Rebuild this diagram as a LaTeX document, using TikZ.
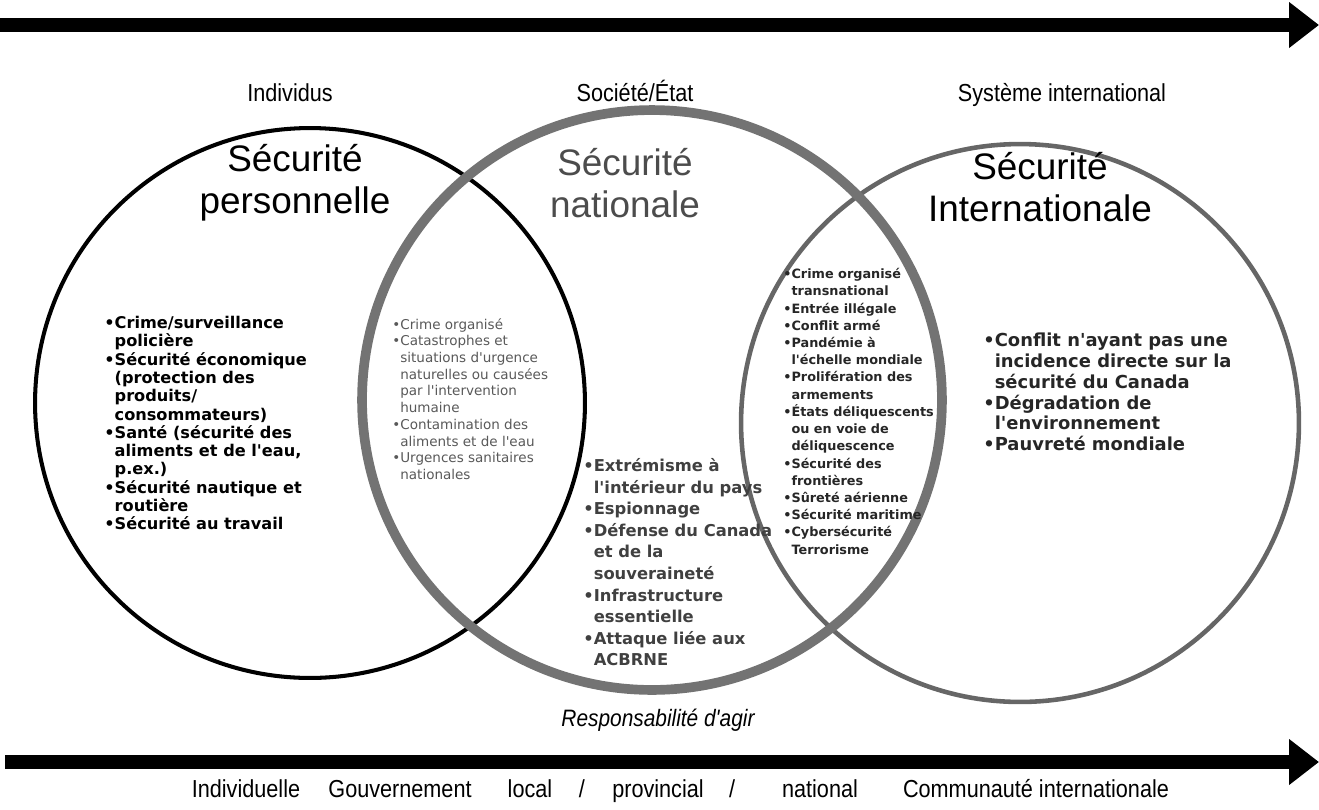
\documentclass[tikz,border=0pt]{standalone}
\usepackage{fontspec}
\setmainfont{Liberation Sans}
\newfontfamily\narrowfont[FakeStretch=0.88]{Liberation Sans}
\newfontfamily\listfont{DejaVu Sans}
\usetikzlibrary{arrows.meta}

\newcommand\itm{\textbullet}
\newcommand\cont{\hphantom{\textbullet}}

\tikzset{
  axis/.style={line width=8pt, -{Triangle[length=17pt,width=25pt]}},
  level/.style={anchor=base, inner sep=0pt, font=\narrowfont\fontsize{14}{16}\selectfont},
  title/.style={align=center, font=\fontsize{21}{24}\selectfont},
  list/.style={anchor=north west, inner sep=0pt, align=left},
}

\begin{document}
\begin{tikzpicture}[x=0.02cm, y=-0.02cm]
	\useasboundingbox (0, 0) rectangle (1319, 809);

	% les deux axes
	\coordinate (topL) at (0, 25);
	\coordinate (topR) at (1319, 25);
	\coordinate (botL) at (5, 762);
	\coordinate (botR) at (1319, 762);
	\draw[axis] (topL) -- (topR);
	\draw[axis] (botL) -- (botR);

	\node[level] (indiv) at (290, 101) {Individus};
	\node[level] (etat) at (635, 101) {Société/État};
	\node[level] (intl) at (1062, 101) {Système international};

	% les trois cercles
	\draw[black, line width=2.3pt] (310, 403) circle [radius=5.5cm];
	\draw[black!60, line width=2.6pt] (1020, 423) circle [radius=5.58cm];
	\draw[black!55, line width=5.5pt] (652, 400) circle [radius=5.8cm];

	\node[title] (perso) at (295, 183) {Sécurité\\personnelle};
	\node[title, black!70] (natio) at (625, 183) {Sécurité\\nationale};
	\node[title] (inter) at (1040, 187) {Sécurité\\Internationale};

	\node[list, font=\listfont\bfseries\fontsize{9.2}{10.4}\selectfont] (listPerso) at (104, 316) {%
		\itm Crime/surveillance\\
		\cont policière\\
		\itm Sécurité économique\\
		\cont (protection des\\
		\cont produits/\\
		\cont consommateurs)\\
		\itm Santé (sécurité des\\
		\cont aliments et de l'eau,\\
		\cont p.ex.)\\
		\itm Sécurité nautique et\\
		\cont routière\\
		\itm Sécurité au travail};

	\node[list, black!65, font=\listfont\fontsize{7.7}{9.5}\selectfont] (listPN) at (392, 318) {%
		\itm Crime organisé\\
		\itm Catastrophes et\\
		\cont situations d'urgence\\
		\cont naturelles ou causées\\
		\cont par l'intervention\\
		\cont humaine\\
		\itm Contamination des\\
		\cont aliments et de l'eau\\
		\itm Urgences sanitaires\\
		\cont nationales};

	\node[list, black!75, font=\listfont\bfseries\fontsize{9.3}{12.3}\selectfont] (listNatio) at (583, 458) {%
		\itm Extrémisme à\\
		\cont l'intérieur du pays\\
		\itm Espionnage\\
		\itm Défense du Canada\\
		\cont et de la\\
		\cont souveraineté\\
		\itm Infrastructure\\
		\cont essentielle\\
		\itm Attaque liée aux\\
		\cont ACBRNE};

	\node[list, black!85, font=\listfont\bfseries\fontsize{7.3}{9.8}\selectfont] (listNI) at (783, 268) {%
		\itm Crime organisé\\
		\cont transnational\\
		\itm Entrée illégale\\
		\itm Conflit armé\\
		\itm Pandémie à\\
		\cont l'échelle mondiale\\
		\itm Prolifération des\\
		\cont armements\\
		\itm États déliquescents\\
		\cont ou en voie de\\
		\cont déliquescence\\
		\itm Sécurité des\\
		\cont frontières\\
		\itm Sûreté aérienne\\
		\itm Sécurité maritime\\
		\itm Cybersécurité\\
		\cont Terrorisme};

	\node[list, black!85, font=\listfont\bfseries\fontsize{10.2}{11.8}\selectfont] (listInter) at (983, 333) {%
		\itm Conflit n'ayant pas une\\
		\cont incidence directe sur la\\
		\cont sécurité du Canada\\
		\itm Dégradation de\\
		\cont l'environnement\\
		\itm Pauvreté mondiale};

	% responsabilité d'agir, de l'individu à la communauté
	\node[level, font=\narrowfont\itshape\fontsize{13.5}{16}\selectfont] (resp) at (658, 726) {Responsabilité d'agir};
	\node[level] (rIndiv) at (246, 797) {Individuelle};
	\node[level] (rGouv) at (400, 797) {Gouvernement};
	\node[level] (rLocal) at (530, 797) {local};
	\node[level] (rSlashA) at (582, 797) {/};
	\node[level] (rProv) at (658, 797) {provincial};
	\node[level] (rSlashB) at (732, 797) {/};
	\node[level] (rNat) at (820, 797) {national};
	\node[level] (rComm) at (1036, 797) {Communauté internationale};
\end{tikzpicture}
\end{document}
